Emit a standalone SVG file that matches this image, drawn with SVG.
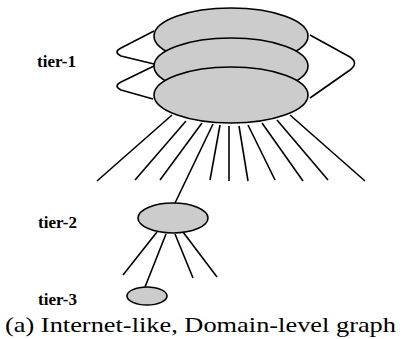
<svg xmlns="http://www.w3.org/2000/svg" width="402" height="339" viewBox="0 0 402 339">
<style>
.n{fill:#cccccc;stroke:#000;stroke-width:1.6}
.c{fill:none;stroke:#000;stroke-width:1.6;stroke-linejoin:round}
.lbl{font-family:"Liberation Serif",serif;font-weight:bold;font-size:17px;fill:#000}
.cap{font-family:"Liberation Serif",serif;font-size:21px;fill:#000}
</style>
<rect width="402" height="339" fill="#fff"/>
<g id="connectors">
<path class="c" d="M154,31 L121,48 Q113,52 121,56 L154,64"/>
<path class="c" d="M154,66 L121,82 Q113,86 121,90 L153,99"/>
<path class="c" d="M310,35 L350,57 Q359,63 350,70 L310,98"/>
<line class="c" x1="172" y1="115" x2="97" y2="181"/>
<line class="c" x1="186" y1="121" x2="135" y2="180"/>
<line class="c" x1="202" y1="123" x2="160" y2="180"/>
<line class="c" x1="213" y1="124" x2="175" y2="203"/>
<line class="c" x1="220" y1="125" x2="210" y2="180"/>
<line class="c" x1="229" y1="126" x2="229" y2="181"/>
<line class="c" x1="239" y1="126" x2="248" y2="181"/>
<line class="c" x1="248" y1="125" x2="275" y2="180"/>
<line class="c" x1="262" y1="123" x2="303" y2="181"/>
<line class="c" x1="277" y1="120" x2="328" y2="180"/>
<line class="c" x1="290" y1="115" x2="365" y2="181"/>
<line class="c" x1="157" y1="232" x2="123" y2="275"/>
<line class="c" x1="166" y1="234" x2="145" y2="287"/>
<line class="c" x1="175" y1="234" x2="193" y2="278"/>
<line class="c" x1="183" y1="232" x2="217" y2="277"/>
</g>
<g id="tier1-a"><ellipse class="n" cx="231" cy="36" rx="77" ry="28"/></g>
<g id="tier1-b"><ellipse class="n" cx="231" cy="66" rx="77" ry="28"/></g>
<g id="tier1-c"><ellipse class="n" cx="231" cy="95" rx="77" ry="28"/></g>
<g id="tier2"><ellipse class="n" cx="173" cy="218" rx="35" ry="15"/></g>
<g id="tier3"><ellipse class="n" cx="147" cy="296" rx="20" ry="9"/></g>
<g id="labels">
<text class="lbl" x="37" y="67">tier-1</text>
<text class="lbl" x="38" y="228">tier-2</text>
<text class="lbl" x="38" y="305">tier-3</text>
<text class="cap" x="5" y="332" textLength="391" lengthAdjust="spacingAndGlyphs">(a) Internet-like, Domain-level graph</text>
</g>
</svg>
